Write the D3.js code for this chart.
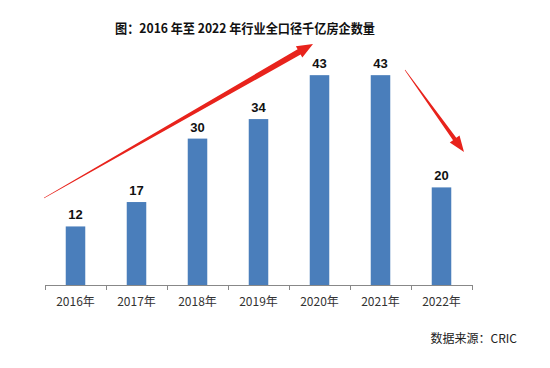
<!DOCTYPE html>
<html>
<head>
<meta charset="utf-8">
<script src="https://cdn.jsdelivr.net/npm/d3@7"></script>
<style>
  body { margin: 0; background: #fff; }
  svg { display: block; }
</style>
</head>
<body>
<svg width="550" height="368"></svg>
<script>
const years = ['2016年', '2017年', '2018年', '2019年', '2020年', '2021年', '2022年'];
const counts = [12, 17, 30, 34, 43, 43, 20];
const titleText = '图：2016 年至 2022 年行业全口径千亿房企数量';
const sourceText = '数据来源：CRIC';

const svg = d3.select('svg');
const margin = { left: 45, right: 78, top: 41, bottom: 83 };
const width = 550, height = 368;
const baseY = height - margin.bottom;

const x = d3.scaleBand()
  .domain(years)
  .range([margin.left, width - margin.right])
  .paddingInner(0.68)
  .paddingOuter(0.34);

const y = d3.scaleLinear()
  .domain([0, 50])
  .range([baseY, margin.top]);

// title
svg.append('text')
  .attr('x', 245).attr('y', 33)
  .attr('text-anchor', 'middle')
  .attr('font-family', '"Noto Sans CJK SC", sans-serif')
  .attr('font-weight', 'bold')
  .attr('font-size', 13)
  .attr('textLength', 260)
  .attr('lengthAdjust', 'spacingAndGlyphs')
  .attr('fill', '#111')
  .text(titleText);

// bars
svg.append('g')
  .selectAll('rect')
  .data(counts)
  .enter().append('rect')
  .attr('x', (d, i) => x(years[i]))
  .attr('y', d => y(d))
  .attr('width', x.bandwidth())
  .attr('height', d => baseY - y(d))
  .attr('fill', '#4a7ebb');

// value labels
svg.append('g')
  .selectAll('text')
  .data(counts)
  .enter().append('text')
  .attr('x', (d, i) => x(years[i]) + x.bandwidth() / 2)
  .attr('y', d => y(d) - 7)
  .attr('text-anchor', 'middle')
  .attr('font-family', '"Liberation Sans", Arial, sans-serif')
  .attr('font-weight', 'bold')
  .attr('font-size', 13)
  .attr('fill', '#111')
  .text(d => d);

// x axis with ticks on band boundaries
const axisG = svg.append('g');
axisG.append('line')
  .attr('x1', margin.left).attr('x2', width - margin.right)
  .attr('y1', baseY + 0.5).attr('y2', baseY + 0.5)
  .attr('stroke', '#888');
const step = x.step();
const edges = d3.range(years.length + 1).map(i => margin.left + i * step);
axisG.selectAll('line.tick')
  .data(edges)
  .enter().append('line')
  .attr('class', 'tick')
  .attr('x1', d => Math.round(d) + 0.5).attr('x2', d => Math.round(d) + 0.5)
  .attr('y1', baseY).attr('y2', baseY + 5)
  .attr('stroke', '#888');
axisG.selectAll('text')
  .data(years)
  .enter().append('text')
  .attr('x', d => x(d) + x.bandwidth() / 2)
  .attr('y', baseY + 21)
  .attr('text-anchor', 'middle')
  .attr('font-family', '"Noto Sans CJK SC", sans-serif')
  .attr('font-size', 12)
  .attr('fill', '#333')
  .text(d => d);

// source note
svg.append('text')
  .attr('x', 517).attr('y', 343)
  .attr('text-anchor', 'end')
  .attr('font-family', '"Noto Sans CJK SC", sans-serif')
  .attr('font-size', 12)
  .attr('fill', '#222')
  .text(sourceText);

// tapered red arrows (annotations)
function arrow(x1, y1, x2, y2, tailW, bodyW, headLen, headW) {
  const dx = x2 - x1, dy = y2 - y1;
  const len = Math.hypot(dx, dy);
  const ux = dx / len, uy = dy / len;
  const px = -uy, py = ux;
  const bx = x2 - ux * headLen, by = y2 - uy * headLen;
  const pts = [
    [x1 + px * tailW / 2, y1 + py * tailW / 2],
    [bx + px * bodyW / 2, by + py * bodyW / 2],
    [bx + px * headW / 2, by + py * headW / 2],
    [x2, y2],
    [bx - px * headW / 2, by - py * headW / 2],
    [bx - px * bodyW / 2, by - py * bodyW / 2],
    [x1 - px * tailW / 2, y1 - py * tailW / 2]
  ];
  svg.append('path')
    .attr('d', d3.line()(pts) + 'Z')
    .attr('fill', '#e8231c');
}
arrow(44, 198, 313, 44, 0.5, 6, 16, 13);
arrow(405, 70, 464, 152, 0.5, 4, 16, 12);
</script>
</body>
</html>
